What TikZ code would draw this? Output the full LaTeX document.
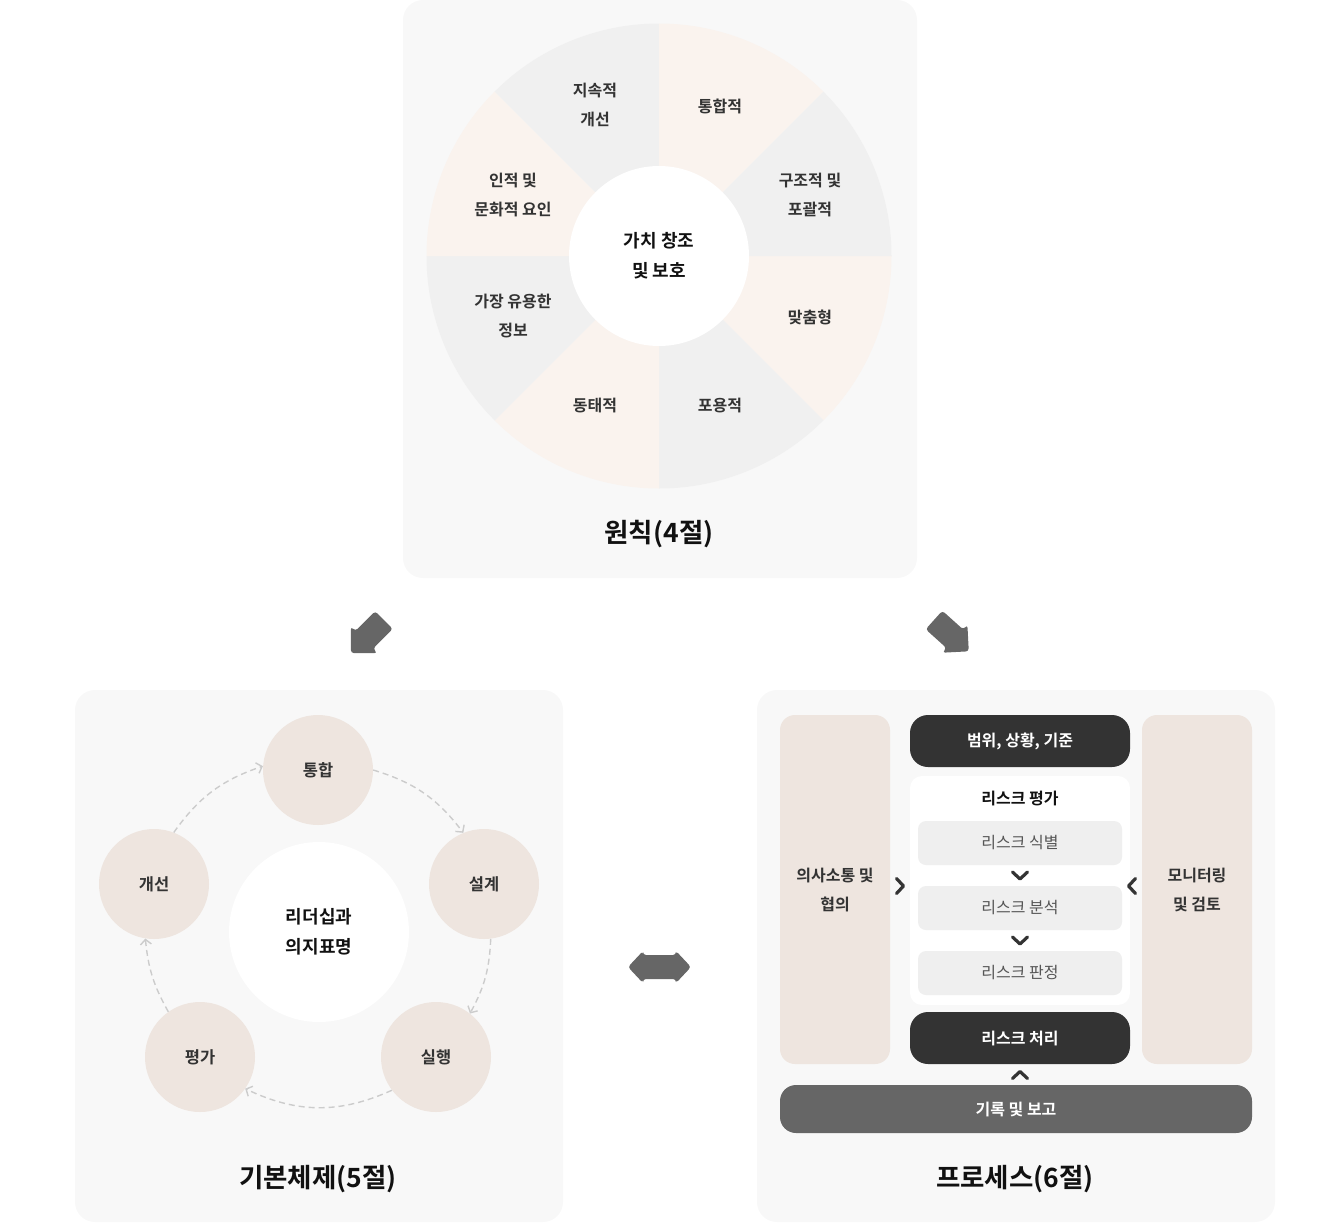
\documentclass[tikz,border=0pt]{standalone}
\usepackage{fontspec}
\setmainfont{Noto Sans CJK KR}[BoldFont={Noto Sans CJK KR Bold}]
\usetikzlibrary{arrows.meta,calc}
\definecolor{panelbg}{HTML}{F8F8F8}
\definecolor{sgray}{HTML}{F0F0F0}
\definecolor{speach}{HTML}{FAF3EE}
\definecolor{beige}{HTML}{EEE5DF}
\definecolor{darkbar}{HTML}{333333}
\definecolor{midgray}{HTML}{666666}
\definecolor{txt}{HTML}{333333}
\definecolor{titletxt}{HTML}{111111}
\definecolor{subbox}{HTML}{EFEFEF}
\definecolor{subtxt}{HTML}{555555}
\definecolor{dashc}{HTML}{CCCCCC}
\begin{document}
\begin{tikzpicture}[x=1pt,y=-1pt,
  panel/.style={fill=panelbg,rounded corners=20pt},
  seclabel/.style={align=center,text=txt,font=\fontsize{16}{29}\selectfont\bfseries},
  ptitle/.style={text=titletxt,font=\fontsize{26.5}{30}\selectfont\bfseries},
  stagecirc/.style={circle,fill=beige,minimum size=110pt,inner sep=0pt,text=txt,font=\fontsize{16.5}{20}\selectfont\bfseries},
  centercirc/.style={circle,fill=white,minimum size=180pt,inner sep=0pt,align=center,text=titletxt,font=\fontsize{18}{30}\selectfont\bfseries},
  cyclearrow/.style={draw=dashc,line width=1.4pt,dash pattern=on 6pt off 4pt,-{Straight Barb[length=5pt,width=11pt,line width=1.4pt]}},
  sidecol/.style={rectangle,rounded corners=15pt,fill=beige,minimum width=110pt,minimum height=349pt,inner sep=0pt,align=center,text=txt,font=\fontsize{16}{29}\selectfont\bfseries},
  darkbox/.style={rectangle,rounded corners=18pt,fill=darkbar,minimum width=220pt,minimum height=52pt,inner sep=0pt,text=white,font=\fontsize{16}{20}\selectfont\bfseries},
  subitem/.style={rectangle,rounded corners=8pt,fill=subbox,minimum width=204pt,minimum height=44pt,inner sep=0pt,text=subtxt,font=\fontsize{16}{20}\selectfont},
  chev/.style={draw=darkbar,line width=3.2pt,line cap=round,line join=round},
  bigarrow/.style={fill=midgray,rounded corners=3pt}]
\useasboundingbox (0,0) rectangle (1320,1224);

% ---------- panels ----------
\fill[panel] (403,0) rectangle (917,578);
\fill[panel] (75,690) rectangle (563,1222);
\fill[panel] (757,690) rectangle (1275,1222);

% ---------- principles wheel ----------
\coordinate (wcen) at (659,256);
\foreach \a/\c in {0/speach,45/sgray,90/speach,135/sgray,180/speach,225/sgray,270/speach,315/sgray}{
  \fill[\c] (wcen) -- ++(\a:232.5) arc[start angle=\a,end angle=\a+45,radius=232.5] -- cycle;
}
\node[centercirc] (wc) at (wcen) {가치 창조\\및 보호};
\node[seclabel] (p1) at (810,317) {맞춤형};
\node[seclabel] (p2) at (720,406) {포용적};
\node[seclabel] (p3) at (595,406) {동태적};
\node[seclabel] (p4) at (513,316.5) {가장 유용한\\정보};
\node[seclabel] (p5) at (513,195.5) {인적 및\\문화적 요인};
\node[seclabel] (p6) at (595,105.5) {지속적\\개선};
\node[seclabel] (p7) at (720,106) {통합적};
\node[seclabel] (p8) at (810,195.5) {구조적 및\\포괄적};
\node[ptitle] (t1) at (659,534) {원칙(4절)};

% ---------- big arrows ----------
\begin{scope}[shift={(384,620)},rotate=225,scale=1.04]
  \fill[bigarrow] (0,-12) -- (27,-12) -- (27,-18) -- (45,0) -- (27,18) -- (27,12) -- (0,12) -- cycle;
\end{scope}
\begin{scope}[shift={(934,620)},rotate=-42,scale=1.04]
  \fill[bigarrow] (0,-12) -- (27,-12) -- (27,-18) -- (45,0) -- (27,18) -- (27,12) -- (0,12) -- cycle;
\end{scope}
\fill[bigarrow] (628,967) -- (643,951) -- (643,955) -- (676,955) -- (676,951) -- (691,967) -- (676,983) -- (676,979) -- (643,979) -- (643,983) -- cycle;

% ---------- framework cycle ----------
\node[centercirc] (lead) at (319,932) {리더십과\\의지표명};
\node[stagecirc] (s1) at (318,770) {통합};
\node[stagecirc] (s2) at (484,884) {설계};
\node[stagecirc] (s3) at (436,1057) {실행};
\node[stagecirc] (s4) at (200,1057) {평가};
\node[stagecirc] (s5) at (154,884) {개선};
\draw[cyclearrow] (s1.0) to[bend left=18] (s2.112);
\draw[cyclearrow] (s2.-83) to[bend left=13] (s3.52);
\draw[cyclearrow] (s3.217) to[bend left=25] (s4.325);
\draw[cyclearrow] (s4.125) to[bend left=12] (s5.261);
\draw[cyclearrow] (s5.69) to[bend left=18] (s1.176);
\node[ptitle] (t2) at (318,1179) {기본체제(5절)};

% ---------- process ----------
\node[sidecol] (comm) at (835,889.5) {의사소통 및\\협의};
\node[sidecol] (moni) at (1197,889.5) {모니터링\\및 검토};
\node[darkbox] (scope) at (1020,741) {범위, 상황, 기준};
\node[rectangle,rounded corners=12pt,fill=white,minimum width=220pt,minimum height=229pt,inner sep=0pt] (ra) at (1020,890.5) {};
\node[text=titletxt,font=\fontsize{16}{20}\selectfont\bfseries] (ratitle) at (1020,798) {리스크 평가};
\node[subitem] (ri) at (1020,843) {리스크 식별};
\node[subitem] (ran) at (1020,908) {리스크 분석};
\node[subitem] (rev) at (1020,973) {리스크 판정};
\node[darkbox] (treat) at (1020,1038) {리스크 처리};
\node[rectangle,rounded corners=16pt,fill=midgray,minimum width=472pt,minimum height=48pt,inner sep=0pt,text=white,font=\fontsize{16}{20}\selectfont\bfseries] (rec) at (1016,1109) {기록 및 보고};
\coordinate (c1) at (1020,876);
\coordinate (c2) at (1020,941);
\coordinate (c3) at (1020,1075);
\coordinate (c4) at (900,886);
\coordinate (c5) at (1132,886);
\draw[chev] (c1) ++(-7.5,-4) -- ++(7.5,7) -- ++(7.5,-7);
\draw[chev] (c2) ++(-7.5,-4) -- ++(7.5,7) -- ++(7.5,-7);
\draw[chev] (c3) ++(-7.5,3.5) -- ++(7.5,-7) -- ++(7.5,7);
\draw[chev] (c4) ++(-3.5,-7.5) -- ++(7,7.5) -- ++(-7,7.5);
\draw[chev] (c5) ++(3.5,-7.5) -- ++(-7,7.5) -- ++(7,7.5);
\node[ptitle] (t3) at (1015,1179) {프로세스(6절)};
\end{tikzpicture}
\end{document}
